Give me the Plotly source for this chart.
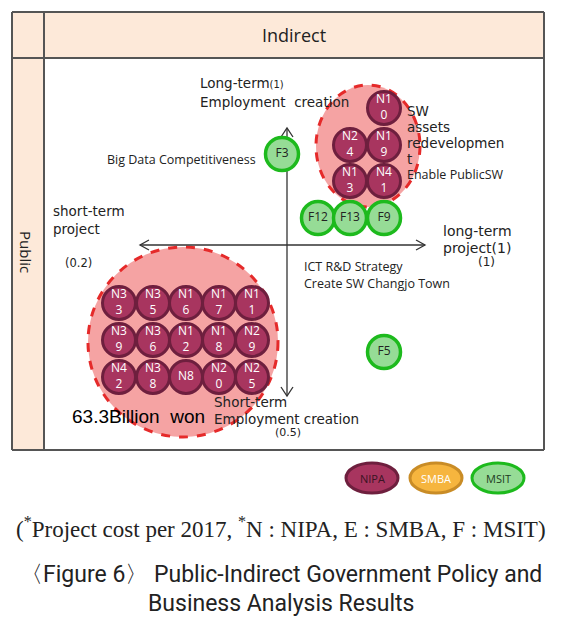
import plotly.graph_objects as go

# ---------------- data ----------------
# NIPA projects in the large cluster (short-term project / short-term employment)
nipa_low_labels = ["N3<br>3", "N3<br>5", "N1<br>6", "N1<br>7", "N1<br>1",
                   "N3<br>9", "N3<br>6", "N1<br>2", "N1<br>8", "N2<br>9",
                   "N4<br>2", "N3<br>8", "N8", "N2<br>0", "N2<br>5"]
nipa_low_x = [119, 153, 186, 219, 252,
              119, 153, 186, 219, 252,
              119, 153, 186, 219, 252]
nipa_low_y = [303, 303, 303, 303, 303,
              340, 340, 340, 340, 340,
              377, 377, 377, 377, 377]

# NIPA projects in the upper cluster
nipa_up_labels = ["N1<br>0", "N2<br>4", "N1<br>9", "N1<br>3", "N4<br>1"]
nipa_up_x = [384, 350, 384, 350, 384]
nipa_up_y = [108, 145, 145, 181, 181]

# MSIT projects
msit_labels = ["F3", "F12", "F13", "F9", "F5"]
msit_x = [282, 318, 350, 384, 384]
msit_y = [154, 218, 218, 218, 352]

# cluster outlines (center x, center y, radius x, radius y)
clusters = [(183, 342, 95, 95), (368, 146, 52, 61)]

legend_names = ["NIPA", "SMBA", "MSIT"]
legend_x = [372, 436, 498]

# page has an 8px body margin: the plot area covers page pixels 8..568 x 8..620
OFF = 8
W, H = 568, 620
NIPA_FILL, NIPA_LINE = "#A8355F", "#6E1F3E"
SMBA_FILL, SMBA_LINE = "#F6B53E", "#C98C26"
MSIT_FILL, MSIT_LINE = "#96DC96", "#1DBA1D"
PEACH = "#FDE9D9"
BORDER = "#555555"
RED = "#E52A2A"

fig = go.Figure()

shapes = []
# table background
shapes.append(dict(type="rect", x0=12, y0=12, x1=544, y1=58, fillcolor=PEACH,
                   line=dict(width=0), layer="below"))
shapes.append(dict(type="rect", x0=12, y0=58, x1=44, y1=450, fillcolor=PEACH,
                   line=dict(width=0), layer="below"))
# table border lines
for (x0, y0, x1, y1) in [(12, 12, 544, 12), (12, 58, 544, 58), (12, 450, 544, 450),
                         (12, 12, 12, 450), (44, 12, 44, 450), (544, 12, 544, 450)]:
    shapes.append(dict(type="line", x0=x0, y0=y0, x1=x1, y1=y1,
                       line=dict(color=BORDER, width=2), layer="below"))
# cluster outlines
for (cx, cy, rx, ry) in clusters:
    shapes.append(dict(type="circle", x0=cx - rx, x1=cx + rx, y0=cy - ry, y1=cy + ry,
                       fillcolor="#F5A3A3", line=dict(color=RED, width=3, dash="dash"),
                       layer="below"))
# axes
AX = "#333333"
shapes.append(dict(type="line", x0=287, y0=128, x1=287, y1=396,
                   line=dict(color=AX, width=1.3), layer="below"))
shapes.append(dict(type="line", x0=140, y0=245, x1=425, y1=245,
                   line=dict(color=AX, width=1.3), layer="below"))
for p in ["M 281 137 L 287 128 L 293 137", "M 281 387 L 287 396 L 293 387",
          "M 416 240 L 425 245 L 416 250", "M 149 240 L 140 245 L 149 250"]:
    shapes.append(dict(type="path", path=p, line=dict(color=AX, width=1.3), layer="below"))

# legend ovals
for name, lx, fc, lc in zip(legend_names, legend_x,
                            [NIPA_FILL, SMBA_FILL, MSIT_FILL],
                            [NIPA_LINE, SMBA_LINE, MSIT_LINE]):
    shapes.append(dict(type="circle", x0=lx - 26, x1=lx + 26, y0=463, y1=493,
                       fillcolor=fc, line=dict(color=lc, width=3), layer="above"))

# bubbles
BF = "Open Sans"
fig.add_trace(go.Scatter(x=nipa_low_x, y=nipa_low_y, text=nipa_low_labels,
                         mode="markers+text", textposition="middle center",
                         marker=dict(size=33, color=NIPA_FILL, line=dict(color=NIPA_LINE, width=3)),
                         textfont=dict(color="white", size=12, family=BF),
                         hoverinfo="skip", showlegend=False))
fig.add_trace(go.Scatter(x=nipa_up_x, y=nipa_up_y, text=nipa_up_labels,
                         mode="markers+text", textposition="middle center",
                         marker=dict(size=33, color=NIPA_FILL, line=dict(color=NIPA_LINE, width=3)),
                         textfont=dict(color="white", size=12, family=BF),
                         hoverinfo="skip", showlegend=False))
fig.add_trace(go.Scatter(x=msit_x, y=msit_y, text=msit_labels,
                         mode="markers+text", textposition="middle center",
                         marker=dict(size=33, color=MSIT_FILL, line=dict(color=MSIT_LINE, width=3.5)),
                         textfont=dict(color="#222222", size=12, family=BF),
                         hoverinfo="skip", showlegend=False))

ann = []


def txt(x, y, t, size=13, family="DejaVu Sans", color="#222222", xanchor="left", **kw):
    ann.append(dict(x=x, y=y, text=t, showarrow=False, xref="x", yref="y",
                    xanchor=xanchor, yanchor="middle",
                    font=dict(size=size, family=family, color=color), **kw))


txt(294, 35, "Indirect", size=18, family="Open Sans", xanchor="center")
txt(26, 252, "Public", size=15, family="Open Sans", xanchor="center", textangle=90)

txt(198, 83, "Long-term<span style='font-size:10px'>(1)</span>", size=13.5)
txt(198, 102, "Employment  creation", size=13.5)
txt(105, 159, "Big Data Competitiveness", size=12.5, family="Open Sans")
txt(51, 211, "short-term", size=13.5)
txt(51, 229, "project", size=13.5)
txt(63, 263, "(0.2)", size=11.5)
txt(441, 231, "long-term", size=14)
txt(441, 248, "project(1)", size=14)
txt(476, 262, "(1)", size=12)
txt(302, 266, "ICT R&D Strategy", size=12.5, family="Open Sans")
txt(302, 283, "Create SW Changjo Town", size=12.5, family="Open Sans")
txt(405, 111, "SW", size=13.5)
txt(405, 127, "assets", size=13.5)
txt(405, 143, "redevelopmen", size=13.5)
txt(405, 159, "t", size=13.5)
txt(405, 174, "Enable PublicSW", size=12.5, family="Open Sans")
txt(212, 402, "Short-term", size=13.5)
txt(212, 419, "Employment creation", size=13.5)
txt(273, 432, "(0.5)", size=11)
txt(70, 416, "63.3Billion  won", size=19, family="Liberation Sans", color="#000000")

for name, lx, c in zip(legend_names, legend_x, ["#3A1424", "white", "#1E3A1E"]):
    txt(lx, 478, name, size=11, family="Open Sans", color=c, xanchor="center")

txt(281, 527, "(<sup>*</sup>Project cost per 2017, <sup>*</sup>N : NIPA, E : SMBA, F : MSIT)",
    size=23, family="Liberation Serif", color="#222222", xanchor="center")
txt(281, 574, "〈Figure 6〉 Public-Indirect Government Policy and",
    size=23, family="Roboto", color="#222222", xanchor="center")
txt(281, 603, "Business Analysis Results",
    size=23, family="Roboto", color="#222222", xanchor="center")

fig.update_layout(
    width=W - OFF, height=H - OFF, margin=dict(l=0, r=0, t=0, b=0),
    paper_bgcolor="white", plot_bgcolor="white",
    xaxis=dict(range=[OFF, W], visible=False, fixedrange=True),
    yaxis=dict(range=[H, OFF], visible=False, fixedrange=True),
    shapes=shapes, annotations=ann, showlegend=False,
)

fig.write_html("out.html", config={"displayModeBar": False})
